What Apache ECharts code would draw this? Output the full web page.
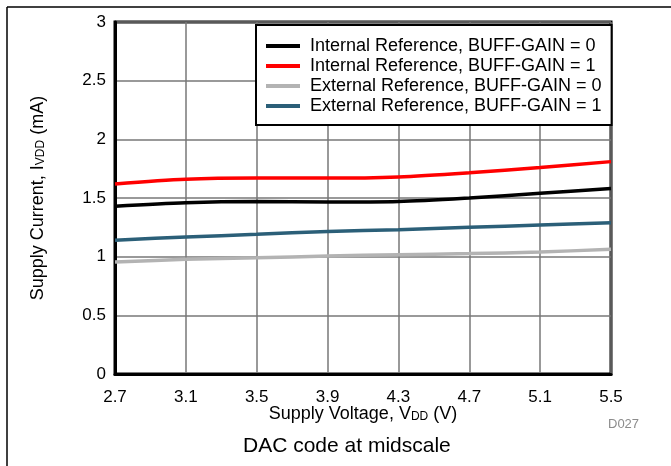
<!DOCTYPE html>
<html><head><meta charset="utf-8">
<script src="https://cdn.jsdelivr.net/npm/echarts@6/dist/echarts.min.js"></script>
<style>html,body{margin:0;padding:0;background:#fff}#c{width:671px;height:466px}</style>
</head><body><div id="c"></div>
<script>
const voltages = ['2.7','3.1','3.5','3.9','4.3','4.7','5.1','5.5'];
const yTicks = [0, 0.5, 1, 1.5, 2, 2.5, 3];
const intRefGain0 = [1.43, 1.46, 1.47, 1.465, 1.47, 1.50, 1.54, 1.58];
const intRefGain1 = [1.62, 1.66, 1.67, 1.67, 1.68, 1.715, 1.76, 1.81];
const extRefGain0 = [0.955, 0.977, 0.99, 1.005, 1.017, 1.026, 1.04, 1.063];
const extRefGain1 = [1.14, 1.168, 1.19, 1.215, 1.23, 1.25, 1.27, 1.29];
const seriesNames = ['Internal Reference, BUFF-GAIN = 0','Internal Reference, BUFF-GAIN = 1','External Reference, BUFF-GAIN = 0','External Reference, BUFF-GAIN = 1'];
const seriesColors = ['#000000','#ff0000','#b3b3b3','#2b5f78'];
const seriesData = [intRefGain0, intRefGain1, extRefGain0, extRefGain1];

const FONT = '"Liberation Sans", Arial, sans-serif';
const chart = echarts.init(document.getElementById('c'), null, {renderer:'canvas'});
chart.setOption({
  animation:false,
  backgroundColor:'#fff',
  grid:{left:115,right:60,top:22,bottom:92,show:true,borderColor:'#000',borderWidth:3,backgroundColor:'transparent'},
  legend:{
    orient:'vertical', left:256, top:25,
    backgroundColor:'#fff', borderColor:'#000', borderWidth:2,
    padding:[11,10,9,10], itemGap:0, itemWidth:34, itemHeight:4,
    icon:'rect',
    textStyle:{fontFamily:FONT,fontSize:18,color:'#000',lineHeight:20,padding:[0,0,0,5]},
    data:seriesNames
  },
  xAxis:{
    type:'category', data:voltages, boundaryGap:false,
    axisLine:{lineStyle:{color:'#000',width:3}},
    axisTick:{show:false},
    axisLabel:{fontFamily:FONT,fontSize:17,color:'#000',margin:15},
    splitLine:{show:true,lineStyle:{color:'#777',width:1.5}},
    name:'{a|Supply Voltage, V}{b|DD}{a| (V)}',
    nameLocation:'middle', nameGap:29, nameMoveOverlap:false,
    nameTextStyle:{rich:{a:{fontFamily:FONT,fontSize:18,color:'#000',lineHeight:20,verticalAlign:'bottom'},b:{fontFamily:FONT,fontSize:12,color:'#000',lineHeight:20,verticalAlign:'bottom',padding:[6,0,0,0]}}}
  },
  yAxis:{
    type:'value', min:0, max:3, interval:0.5,
    axisLine:{show:true,lineStyle:{color:'#000',width:3}},
    axisTick:{show:false},
    axisLabel:{fontFamily:FONT,fontSize:17,color:'#000',margin:9},
    splitLine:{show:true,lineStyle:{color:'#777',width:1.5}},
    name:'{a|Supply Current, I}{b|VDD}{a| (mA)}',
    nameLocation:'middle', nameGap:68, nameRotate:90, nameMoveOverlap:false,
    nameTextStyle:{rich:{a:{fontFamily:FONT,fontSize:18,color:'#000',lineHeight:20,verticalAlign:'bottom'},b:{fontFamily:FONT,fontSize:12,color:'#000',lineHeight:20,verticalAlign:'bottom',padding:[6,0,0,0]}}}
  },
  series: seriesNames.map((n,i)=>({
    name:n, type:'line', data:seriesData[i], smooth:0.3, showSymbol:false,
    lineStyle:{color:seriesColors[i],width:3.5}, itemStyle:{color:seriesColors[i]},
    z: 3
  })),
  graphic:[
    {type:'line',shape:{x1:7,y1:7,x2:671,y2:7},style:{stroke:'#000',lineWidth:1.5}},
    {type:'line',shape:{x1:7,y1:7,x2:7,y2:466},style:{stroke:'#000',lineWidth:1.5}},
    {type:'text',left:608,top:418,style:{text:'D027',fill:'#8c8c8c',font:'13px '+FONT}},
    {type:'text',left:243,top:436,style:{text:'DAC code at midscale',fill:'#000',font:'21px '+FONT}}
  ]
});
</script></body></html>
